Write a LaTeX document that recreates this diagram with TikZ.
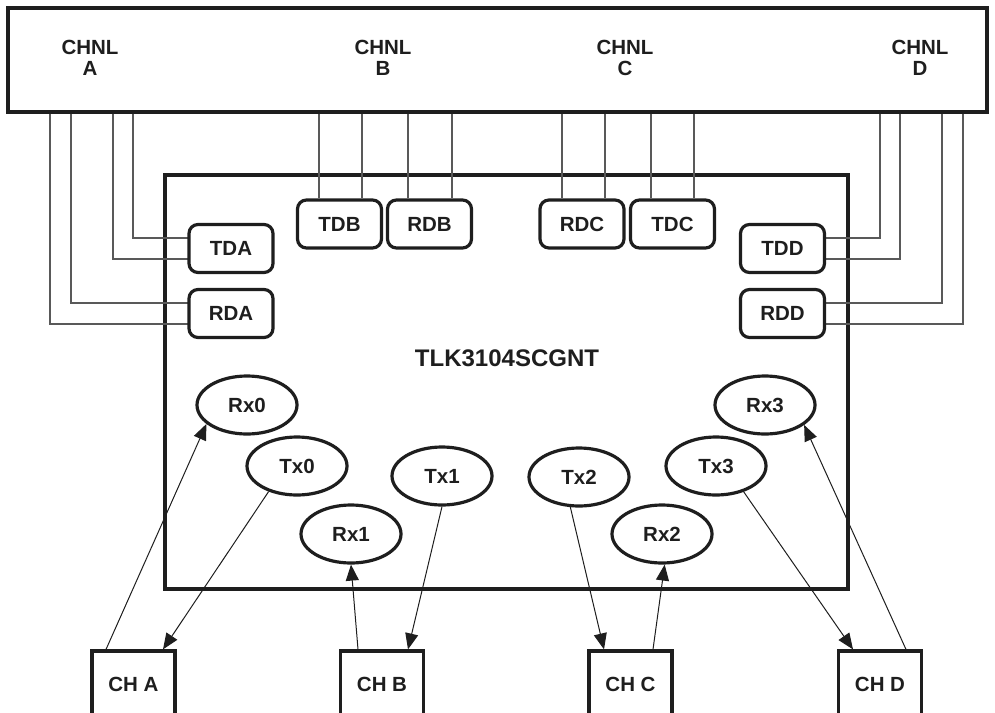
\documentclass[tikz,border=0pt]{standalone}
\usepackage{fontspec}
\setmainfont{Liberation Sans}
\usetikzlibrary{arrows.meta,shapes.geometric}
\definecolor{ink}{HTML}{1E1E1E}
\begin{document}
\begin{tikzpicture}[x=1pt,y=-1pt,
  txt/.style={font=\fontsize{20.5}{21}\selectfont\bfseries,text=ink},
  frame/.style={draw=ink,line width=3.2pt,inner sep=0pt},
  port/.style={frame,txt,rounded corners=9pt,minimum width=84pt,minimum height=48pt},
  oval/.style={frame,txt,ellipse,minimum width=100pt,minimum height=58pt},
  chbox/.style={frame,txt,minimum width=83pt,minimum height=66pt},
  wire/.style={draw=black!65,line width=1.1pt},
  sig/.style={draw=ink,line width=1pt,-{Triangle[length=16pt,width=13pt]}}]
\useasboundingbox (0,0) rectangle (995,712);
\clip (0,0) rectangle (995,712);
% top connector box
\node[frame,minimum width=979pt,minimum height=104pt] (top) at (497.5,60) {};
\node[txt,align=center] (la) at (90,58) {CHNL\\A};
\node[txt,align=center] (lb) at (383,58) {CHNL\\B};
\node[txt,align=center] (lc) at (625,58) {CHNL\\C};
\node[txt,align=center] (ld) at (920,58) {CHNL\\D};
% chip
\node[frame,minimum width=683pt,minimum height=414pt] (chip) at (506.5,382) {};
\node[txt,font=\fontsize{24}{26}\selectfont\bfseries] (title) at (507,358) {TLK3104SCGNT};
% wires (drawn before ports)
\draw[wire] (133,0 |- top.south) |- ([yshift=10.5pt]231,248.5);
\draw[wire] (113,0 |- top.south) |- ([yshift=-10.5pt]231,248.5);
\draw[wire] (71,0 |- top.south) |- ([yshift=10.5pt]231,313.5);
\draw[wire] (50,0 |- top.south) |- ([yshift=-10.5pt]231,313.5);
\draw[wire] (880,0 |- top.south) |- ([yshift=10.5pt]782.5,248.5);
\draw[wire] (900,0 |- top.south) |- ([yshift=-10.5pt]782.5,248.5);
\draw[wire] (942,0 |- top.south) |- ([yshift=10.5pt]782.5,313.5);
\draw[wire] (963,0 |- top.south) |- ([yshift=-10.5pt]782.5,313.5);
% ports
\node[port,fill=white] (tda) at (231,248.5) {TDA};
\node[port,fill=white] (rda) at (231,313.5) {RDA};
\node[port,fill=white] (tdd) at (782.5,248.5) {TDD};
\node[port,fill=white] (rdd) at (782.5,313.5) {RDD};
\node[port] (tdb) at (339.5,224) {TDB};
\node[port] (rdb) at (429.5,224) {RDB};
\node[port] (rdc) at (582,224) {RDC};
\node[port] (tdc) at (672.5,224) {TDC};
\foreach \x/\n in {319/tdb,362/tdb,408/rdb,452/rdb,562/rdc,605/rdc,651/tdc,694/tdc}
  \draw[wire] (\x,0 |- top.south) -- (\x,0 |- \n.north);
% ovals
\node[oval] (rx0) at (247,405) {Rx0};
\node[oval] (tx0) at (297,466) {Tx0};
\node[oval] (tx1) at (442,476) {Tx1};
\node[oval] (rx1) at (351,534) {Rx1};
\node[oval] (tx2) at (579,477) {Tx2};
\node[oval] (rx2) at (662,534) {Rx2};
\node[oval] (tx3) at (716,466) {Tx3};
\node[oval] (rx3) at (765,405) {Rx3};
% channel boxes
\node[chbox] (cha) at (133.5,684) {CH A};
\node[chbox] (chb) at (382,684) {CH B};
\node[chbox] (chc) at (630.5,684) {CH C};
\node[chbox] (chd) at (880,684) {CH D};
% signals
\draw[sig] ([xshift=-27.5pt]cha.north) -- (rx0.205);
\draw[sig] (tx0.222) -- ([xshift=29.5pt]cha.north);
\draw[sig] ([xshift=-24pt]chb.north) -- (rx1.south);
\draw[sig] (tx1.south) -- ([xshift=26pt]chb.north);
\draw[sig] (tx2.254) -- ([xshift=-26.5pt]chc.north);
\draw[sig] ([xshift=22.5pt]chc.north) -- (rx2.275);
\draw[sig] (tx3.317) -- ([xshift=-27pt]chd.north);
\draw[sig] ([xshift=26pt]chd.north) -- (rx3.333);
\end{tikzpicture}
\end{document}
